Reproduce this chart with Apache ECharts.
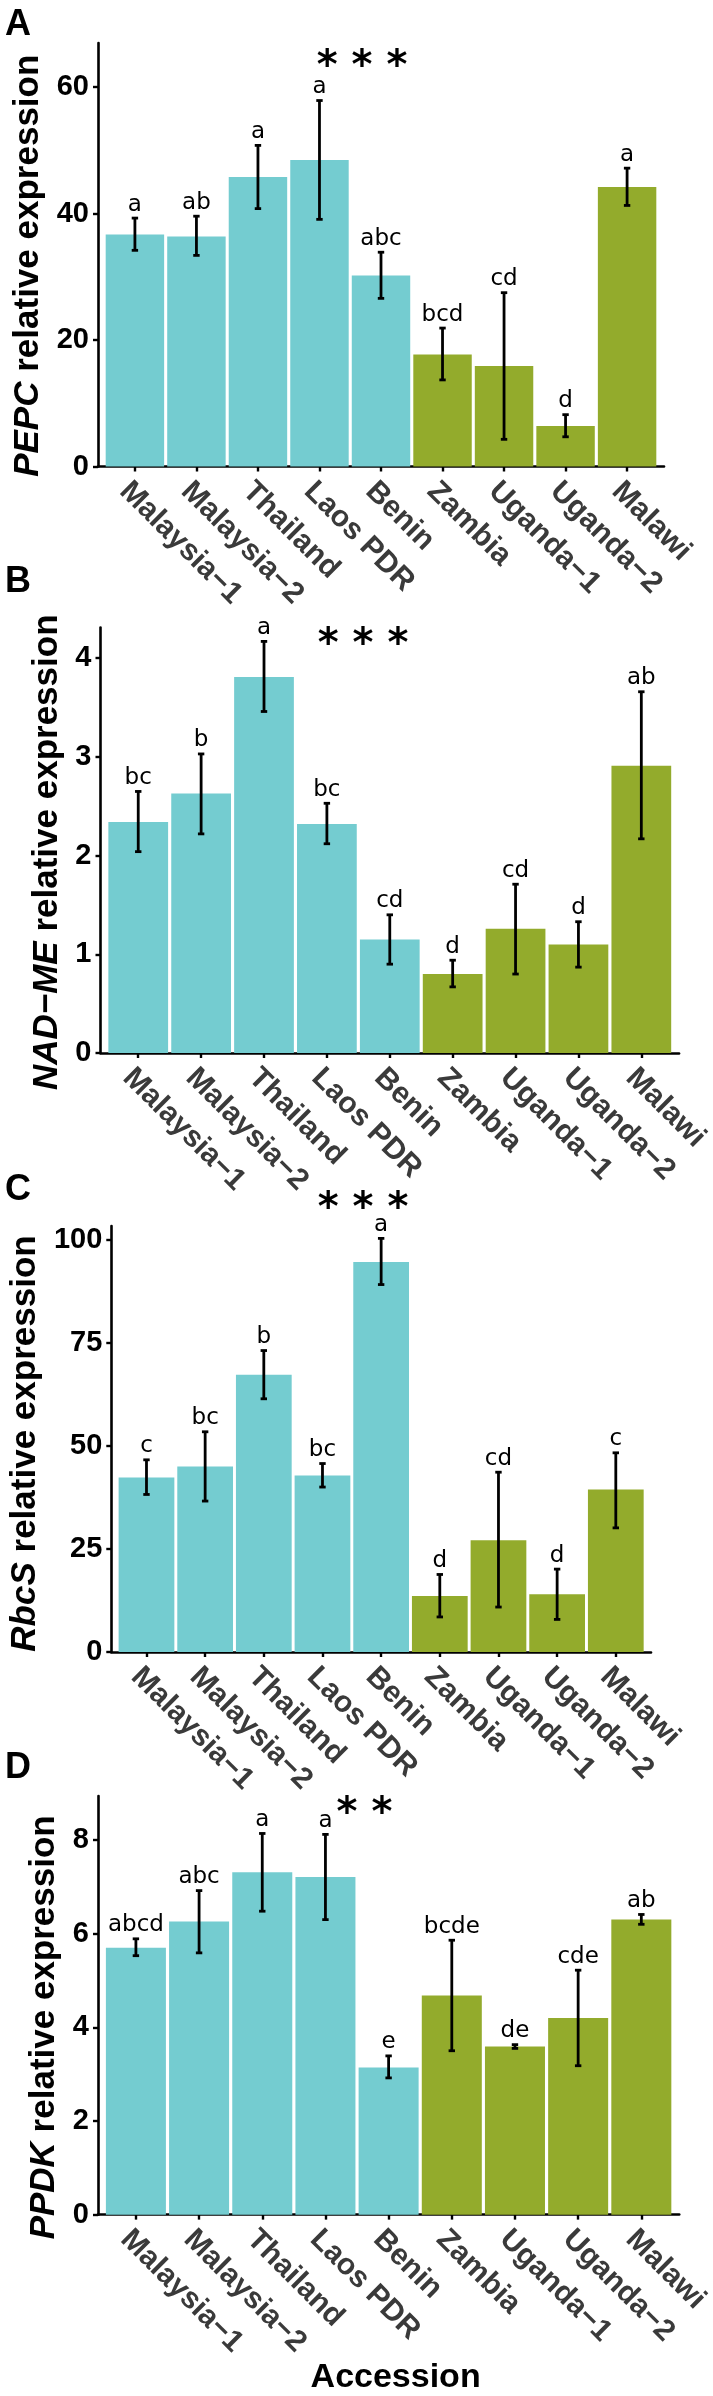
<!DOCTYPE html>
<html>
<head>
<meta charset="utf-8">
<script src="https://cdn.jsdelivr.net/npm/echarts@6/dist/echarts.min.js"></script>
<style>
html,body{margin:0;padding:0;background:#fff;}
#chart{width:713px;height:2396px;}
</style>
</head>
<body>
<div id="chart"></div>
<script>
// ---------- data ----------
const categories = ['Malaysia\u22121','Malaysia\u22122','Thailand','Laos PDR','Benin','Zambia','Uganda\u22121','Uganda\u22122','Malawi'];
const origin = ['Asia','Asia','Asia','Asia','Asia','Africa','Africa','Africa','Africa'];

const pepcMean = [36.7, 36.4, 45.8, 48.5, 30.2, 17.7, 15.9, 6.4, 44.2];
const pepcLow  = [34.2, 33.4, 40.8, 39.1, 26.6, 13.7, 4.3, 4.7, 41.3];
const pepcHigh = [39.3, 39.6, 50.8, 57.9, 33.9, 21.9, 27.5, 8.2, 47.2];
const pepcLetters = ['a','ab','a','a','abc','bcd','cd','d','a'];
const pepcTicks = [0, 20, 40, 60];

const nadMean = [2.34, 2.63, 3.81, 2.32, 1.15, 0.80, 1.26, 1.10, 2.91];
const nadLow  = [2.04, 2.22, 3.46, 2.12, 0.90, 0.67, 0.80, 0.87, 2.17];
const nadHigh = [2.65, 3.03, 4.17, 2.53, 1.40, 0.94, 1.71, 1.33, 3.66];
const nadLetters = ['bc','b','a','bc','cd','d','cd','d','ab'];
const nadTicks = [0, 1, 2, 3, 4];

const rbcsMean = [42.3, 45.0, 67.2, 42.8, 94.6, 13.6, 27.1, 14.0, 39.4];
const rbcsLow  = [38.2, 36.6, 61.4, 40.0, 89.1, 8.5, 10.9, 7.9, 30.1];
const rbcsHigh = [46.6, 53.4, 73.1, 45.7, 100.3, 18.8, 43.6, 20.1, 48.3];
const rbcsLetters = ['c','bc','b','bc','a','d','cd','d','c'];
const rbcsTicks = [0, 25, 50, 75, 100];

const ppdkMean = [5.70, 6.26, 7.31, 7.21, 3.14, 4.68, 3.59, 4.20, 6.30];
const ppdkLow  = [5.53, 5.59, 6.48, 6.30, 2.92, 3.50, 3.55, 3.18, 6.20];
const ppdkHigh = [5.89, 6.92, 8.14, 8.12, 3.39, 5.86, 3.63, 5.22, 6.41];
const ppdkLetters = ['abcd','abc','a','a','e','bcde','de','cde','ab'];
const ppdkTicks = [0, 2, 4, 6, 8];

const panelLabels = ['A','B','C','D'];
const geneNames = ['PEPC','NAD\u2212ME','RbcS','PPDK'];
const signif = ['* * *','* * *','* * *','* *'];
const xTitle = 'Accession';

// ---------- style / layout ----------
const colorMap = {Asia:'#74CCD0', Africa:'#93AB2C'};
const sansB = '"Liberation Sans", Arial, sans-serif';
const letterFont = '"DejaVu Sans", sans-serif';

const panels = [
  {mean:pepcMean, low:pepcLow, high:pepcHigh, letters:pepcLetters, ticks:pepcTicks, max:67,
   grid:{left:98, top:43, width:566, height:423.5}, nameGap:49, namePad:22,
   label:{x:5, y:25.5}, star:{x:362, y:67.5}},
  {mean:nadMean, low:nadLow, high:nadHigh, letters:nadLetters, ticks:nadTicks, max:4.31,
   grid:{left:100.5, top:627.6, width:583.5, height:425.4}, nameGap:36, namePad:24,
   label:{x:5, y:582}, star:{x:363, y:646}},
  {mean:rbcsMean, low:rbcsLow, high:rbcsHigh, letters:rbcsLetters, ticks:rbcsTicks, max:103.3,
   grid:{left:101.5, top:1226, width:549.5, height:426}, nameGap:62, namePad:9,
   label:{x:5, y:1190.5}, star:{x:363, y:1210}},
  {mean:ppdkMean, low:ppdkLow, high:ppdkHigh, letters:ppdkLetters, ticks:ppdkTicks, max:8.94,
   grid:{left:98, top:1796, width:586, height:426}, nameGap:34, namePad:44,
   label:{x:5, y:1768.5}, star:{x:364.5, y:1815}}
];

const idx = categories.map((c, i) => i);

const option = {
  animation: false,
  backgroundColor: '#fff',
  grid: [], xAxis: [], yAxis: [], series: [], graphic: []
};

panels.forEach((p, k) => {
  option.grid.push(Object.assign({containLabel:false}, p.grid));
  option.xAxis.push({
    type:'value', gridIndex:k, min:-0.6, max:8.6,
    name: k === 3 ? xTitle : '',
    nameLocation:'middle', nameGap:140,
    nameTextStyle:{fontFamily:sansB, fontWeight:'bold', fontSize:34, color:'#000', padding:[0, 0, 0, 14]},
    splitLine:{show:false},
    axisLine:{show:true, onZero:false, lineStyle:{color:'#000', width:2.6}},
    axisTick:{show:true, customValues:idx, length:5, lineStyle:{color:'#000', width:2.4}},
    axisLabel:{show:true, customValues:idx, rotate:-45, margin:9.5, align:'left', verticalAlign:'top',
      fontFamily:sansB, fontWeight:'bold', fontSize:30, color:'#3a3a3a',
      formatter: v => categories[Math.round(v)]}
  });
  option.yAxis.push({
    type:'value', gridIndex:k, min:0, max:p.max,
    name:'{it|' + geneNames[k] + '} relative expression',
    nameLocation:'middle', nameGap:p.nameGap,
    nameTextStyle:{fontFamily:sansB, fontWeight:'bold', fontSize:35, color:'#000',
      padding:[0, p.namePad, 0, 0],
      rich:{it:{fontFamily:sansB, fontWeight:'bold', fontStyle:'italic', fontSize:35, color:'#000'}}},
    splitLine:{show:false},
    axisLine:{show:true, onZero:false, lineStyle:{color:'#000', width:2.6}},
    axisTick:{show:true, customValues:p.ticks, length:5, lineStyle:{color:'#000', width:2.4}},
    axisLabel:{show:true, customValues:p.ticks, margin:9,
      fontFamily:sansB, fontWeight:'bold', fontSize:29, color:'#000'}
  });
  option.series.push({
    type:'bar', xAxisIndex:k, yAxisIndex:k, barWidth:'95%',
    data: p.mean.map((v, i) => ({value:[i, v], itemStyle:{color: colorMap[origin[i]]}}))
  });
  option.series.push({
    type:'custom', xAxisIndex:k, yAxisIndex:k, clip:false, z:5,
    data: p.mean.map((v, i) => [i, p.low[i], p.high[i]]),
    renderItem: (params, api) => {
      const x = api.value(0);
      const hi = api.coord([x, api.value(2)]);
      const lo = api.coord([x, api.value(1)]);
      const cw = 3.2;
      const st = () => ({stroke:'#000', lineWidth:2.8});
      return {type:'group', children:[
        {type:'line', shape:{x1:hi[0], y1:hi[1], x2:lo[0], y2:lo[1]}, style:st()},
        {type:'line', shape:{x1:hi[0]-cw, y1:hi[1], x2:hi[0]+cw, y2:hi[1]}, style:st()},
        {type:'line', shape:{x1:lo[0]-cw, y1:lo[1], x2:lo[0]+cw, y2:lo[1]}, style:st()},
        {type:'text', x:hi[0], y:hi[1]-2, style:{text:p.letters[params.dataIndex], align:'center', verticalAlign:'bottom',
          fontFamily:letterFont, fontSize:23, fill:'#000'}}
      ]};
    }
  });
  option.graphic.push({type:'text', x:p.label.x, y:p.label.y,
    style:{text:panelLabels[k], fontFamily:sansB, fontWeight:'bold', fontSize:36, fill:'#000', align:'left', verticalAlign:'middle'}});
  option.graphic.push({type:'text', x:p.star.x, y:p.star.y,
    style:{text:signif[k], fontFamily:'"DejaVu Sans", sans-serif', fontWeight:'bold', fontSize:40, fill:'#000', align:'center', verticalAlign:'middle'}});
});

const chart = echarts.init(document.getElementById('chart'), null, {renderer:'canvas'});
chart.setOption(option);
</script>
</body>
</html>
